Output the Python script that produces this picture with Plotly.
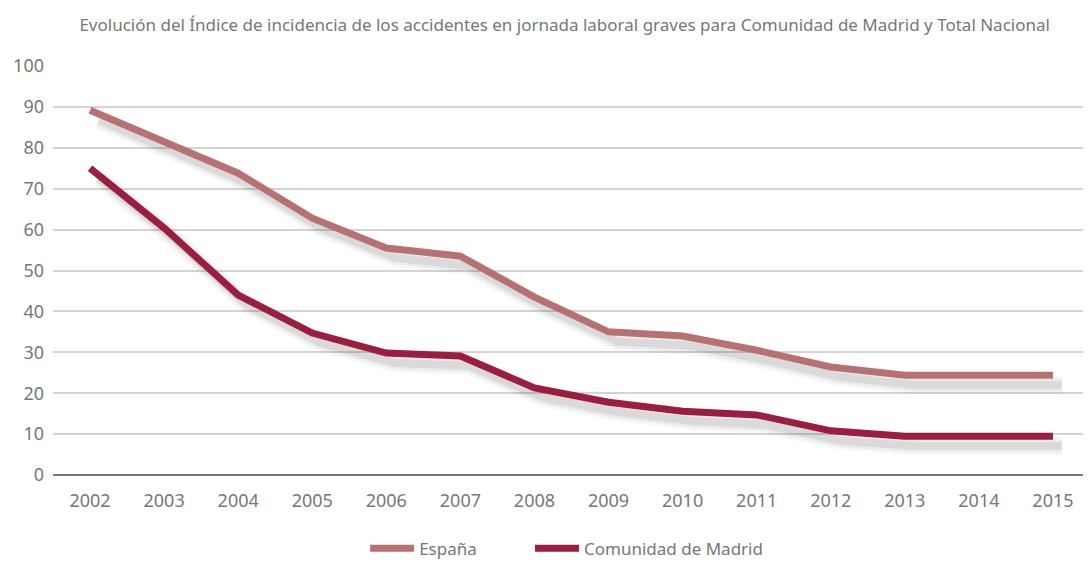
import plotly.graph_objects as go

years = list(range(2002, 2016))
espana = [89.2, 81.7, 73.8, 62.8, 55.5, 53.5, 43.5, 35.0, 34.0, 30.5, 26.4, 24.4, 24.4, 24.4]
madrid = [75.0, 60.4, 44.0, 34.7, 29.8, 29.1, 21.3, 17.8, 15.6, 14.7, 10.8, 9.5, 9.5, 9.5]
y_ticks = list(range(0, 101, 10))

title = "Evolución del Índice de incidencia de los accidentes en jornada laboral graves para Comunidad de Madrid y Total Nacional"
c_esp = "#b87172"
c_mad = "#9b1d40"
txt = "#777777"
font_fam = "Noto Sans, Open Sans, sans-serif"

fig = go.Figure()
# shadows
for vals in (espana, madrid):
    for w, a in ((18, 0.04), (13, 0.06), (8, 0.10)):
        fig.add_trace(go.Scatter(
            x=[y + 0.12 for y in years], y=[v - 2.4 for v in vals], mode="lines",
            line=dict(color=f"rgba(60,60,60,{a})", width=w, shape="linear"),
            hoverinfo="skip", showlegend=False))

fig.add_trace(go.Scatter(x=years, y=espana, mode="lines", name="España",
                         line=dict(color=c_esp, width=7), legend="legend"))
fig.add_trace(go.Scatter(x=years, y=madrid, mode="lines", name="Comunidad de Madrid",
                         line=dict(color=c_mad, width=7), legend="legend2"))

leg_common = dict(orientation="h", yanchor="middle", y=-0.18, xanchor="left",
                  font=dict(size=17, color=txt), itemwidth=44,
                  bgcolor="rgba(0,0,0,0)")

fig.update_layout(
    width=1083, height=554,
    margin=dict(l=45, r=1, t=58, b=87, autoexpand=False),
    paper_bgcolor="white", plot_bgcolor="white",
    font=dict(family=font_fam, color=txt, size=18),
    title=dict(text=title, x=0.514, xanchor="center", y=0.969, yanchor="middle",
               font=dict(size=17, color=txt, family=font_fam)),
    xaxis=dict(range=[2001.5, 2015.5], tickvals=years, ticktext=[str(y) for y in years],
               showgrid=False, zeroline=False, showline=False, ticks="", ticklen=0,
               automargin=False, ticklabelstandoff=13,
               tickfont=dict(size=18, color=txt)),
    yaxis=dict(range=[0, 100], tickvals=y_ticks, showgrid=True, gridcolor="#d4d4d4",
               gridwidth=1.5, zeroline=True, zerolinecolor="#777777", zerolinewidth=2,
               showline=False, ticks="", ticklabelstandoff=8, automargin=False,
               tickfont=dict(size=18, color=txt)),
    legend=dict(x=0.301, **leg_common),
    legend2=dict(x=0.46, **leg_common),
)

fig.write_html("out.html")
